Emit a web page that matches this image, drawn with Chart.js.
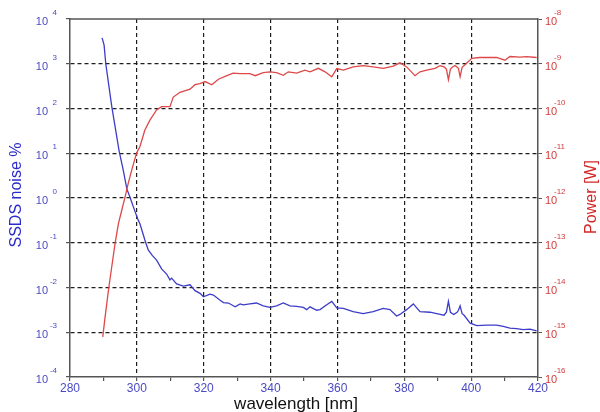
<!DOCTYPE html>
<html>
<head>
<meta charset="UTF-8">
<title>SSDS noise and power</title>
<script src="https://cdn.jsdelivr.net/npm/chart.js@4.4.0/dist/chart.umd.min.js"></script>
<style>
  body { margin: 0; background: #fff; }
</style>
</head>
<body>
<canvas id="myChart" width="600" height="412"></canvas>
<script>
// SSDS noise [%] against wavelength [nm]
var noiseWl = [
  289.6, 290.2, 290.7, 292.5, 294.7, 295.9, 297.0, 297.9, 298.9, 300.4,
  300.9, 302.4, 303.4, 304.6, 305.9, 307.4, 308.9, 309.9, 310.4, 311.9,
  313.9, 315.9, 317.4, 318.9, 319.9, 321.9, 322.9, 324.9, 325.9, 327.4,
  329.4, 330.9, 331.8, 333.8, 335.8, 337.8, 339.8, 341.8, 343.8, 345.8,
  347.8, 349.8, 350.8, 351.8, 353.8, 354.8, 356.8, 358.3, 359.8, 361.8,
  364.7, 367.7, 370.7, 373.7, 375.7, 377.7, 378.7, 380.7, 382.7, 384.7,
  387.7, 390.7, 391.9, 392.6, 393.2, 393.8, 394.8, 395.8, 396.2, 396.7,
  397.3, 397.9, 399.7, 401.7, 404.6, 407.6, 409.6, 411.6, 413.6, 415.6,
  417.6, 419.6
];
var noiseVal = [
  3800, 2600, 1000, 110, 11.2, 4.3, 1.6, 1.07, 0.65, 0.32,
  0.27, 0.115, 0.069, 0.052, 0.041, 0.026, 0.020, 0.0148, 0.0162, 0.0120,
  0.0107, 0.0115, 0.0085, 0.0074, 0.0062, 0.0071, 0.0068, 0.0052, 0.0046, 0.0045,
  0.0037, 0.0043, 0.0041, 0.0043, 0.0045, 0.0039, 0.0036, 0.0039, 0.0045, 0.0039,
  0.0038, 0.0036, 0.0032, 0.0037, 0.0031, 0.0032, 0.0041, 0.0049, 0.0035, 0.0034,
  0.0029, 0.0026, 0.0029, 0.0034, 0.0032, 0.0023, 0.0025, 0.0032, 0.0043, 0.0029,
  0.0028, 0.0025, 0.0024, 0.0028, 0.0049, 0.0028, 0.0025, 0.0028, 0.0031, 0.0039,
  0.0026, 0.0024, 0.0016, 0.0014, 0.00145, 0.00145, 0.00135, 0.00123, 0.0012, 0.00115,
  0.00117, 0.00107
];

// power [W] against wavelength [nm]
var powerWl = [
  289.8, 290.5, 291.5, 292.5, 293.5, 294.5, 295.5, 296.5, 297.4, 298.5,
  299.9, 300.9, 302.4, 303.9, 305.9, 307.4, 309.9, 310.9, 312.9, 315.9,
  317.4, 318.9, 320.4, 322.4, 324.4, 326.4, 328.8, 330.9, 333.8, 335.4,
  337.8, 339.8, 341.8, 343.8, 345.3, 347.8, 350.3, 351.8, 354.3, 356.3,
  358.3, 359.8, 361.8, 364.7, 367.7, 370.7, 373.7, 376.7, 378.7, 380.7,
  383.2, 384.7, 386.7, 389.2, 390.7, 391.9, 392.6, 393.2, 393.8, 394.6,
  395.2, 396.2, 396.7, 397.3, 397.9, 400.2, 402.6, 404.6, 407.6, 410.1,
  411.6, 414.6, 416.6, 419.6
];
var powerVal = [
  7.9e-16, 2.2e-15, 8.7e-15, 2.95e-14, 9.8e-14, 2.7e-13, 5.4e-13, 1.07e-12, 2.1e-12, 4.3e-12,
  1.0e-11, 1.4e-11, 3.3e-11, 5.5e-11, 9.3e-11, 1.1e-10, 1.1e-10, 1.8e-10, 2.3e-10, 2.7e-10,
  3.4e-10, 3.6e-10, 4.0e-10, 3.4e-10, 4.5e-10, 5.2e-10, 6.2e-10, 6.0e-10, 6.0e-10, 5.4e-10,
  6.3e-10, 6.6e-10, 6.3e-10, 5.5e-10, 6.6e-10, 6.2e-10, 7.2e-10, 6.6e-10, 7.9e-10, 6.6e-10,
  5.1e-10, 7.8e-10, 7.2e-10, 8.5e-10, 9.1e-10, 8.5e-10, 7.9e-10, 8.9e-10, 1.05e-9, 8.5e-10,
  5.4e-10, 6.6e-10, 7.2e-10, 7.9e-10, 9.1e-10, 8.5e-10, 7.6e-10, 4.4e-10, 7.6e-10, 8.7e-10,
  9.1e-10, 7.9e-10, 5.1e-10, 8.3e-10, 9.1e-10, 1.32e-9, 1.38e-9, 1.38e-9, 1.38e-9, 1.2e-9,
  1.45e-9, 1.41e-9, 1.45e-9, 1.38e-9
];

// decade exponents on the two log axes
var noiseExp = [-4, -3, -2, -1, 0, 1, 2, 3, 4];
var powerExp = [-16, -15, -14, -13, -12, -11, -10, -9, -8];

var blueText = '#4a4ac4';
var redText = '#d23c3c';
var gridColor = '#1e1e1e';
var font = '"Liberation Sans", Arial, sans-serif';

function points(xs, ys) {
  return xs.map(function (x, i) { return { x: x, y: ys[i] }; });
}

function decades(exps) {
  return function (scale) {
    scale.ticks = exps.map(function (e) { return { value: Math.pow(10, e) }; });
  };
}

// inner grid only, frame lines come from the axis borders
function innerLine(lo, hi) {
  return function (c) {
    if (!c.tick) return 'rgba(0,0,0,0)';
    var v = c.tick.value;
    return (v > lo * 1.0001 && v < hi * 0.9999) ? gridColor : 'rgba(0,0,0,0)';
  };
}

// "10" with a raised exponent, title texts, top frame line
var axisText = {
  id: 'axisText',
  afterDraw: function (chart) {
    var ctx = chart.ctx, a = chart.chartArea;
    var yl = chart.scales.y, yr = chart.scales.y2;
    ctx.save();
    ctx.strokeStyle = '#555';
    ctx.lineWidth = 1.5;
    ctx.beginPath();
    ctx.moveTo(a.left, a.top);
    ctx.lineTo(a.right, a.top);
    ctx.stroke();

    ctx.textBaseline = 'middle';
    ctx.fillStyle = blueText;
    noiseExp.forEach(function (e) {
      var y = yl.getPixelForValue(Math.pow(10, e));
      ctx.font = '11px ' + font;
      ctx.textAlign = 'right';
      ctx.fillText('10', 48, y + 3);
      ctx.font = '8px ' + font;
      ctx.fillText(String(e), 57, y - 6);
    });
    ctx.fillStyle = redText;
    powerExp.forEach(function (e) {
      var y = yr.getPixelForValue(Math.pow(10, e));
      ctx.font = '11px ' + font;
      ctx.textAlign = 'left';
      ctx.fillText('10', 545, y + 3);
      ctx.font = '8px ' + font;
      ctx.fillText(String(e), 554, y - 6);
    });

    ctx.textAlign = 'center';
    ctx.font = '17px ' + font;
    ctx.fillStyle = '#111';
    ctx.fillText('wavelength [nm]', 296, 404);

    ctx.font = '16px ' + font;
    ctx.save();
    ctx.translate(17, 195);
    ctx.rotate(-Math.PI / 2);
    ctx.fillStyle = '#2b2bcc';
    ctx.fillText('SSDS noise %', 0, 0);
    ctx.restore();
    ctx.save();
    ctx.translate(592, 197);
    ctx.rotate(-Math.PI / 2);
    ctx.fillStyle = '#d42828';
    ctx.fillText('Power [W]', 0, 0);
    ctx.restore();
    ctx.restore();
  }
};

var ctx = document.getElementById('myChart').getContext('2d');
var chart = new Chart(ctx, {
  type: 'line',
  data: {
    datasets: [{
      label: 'Power [W]',
      data: points(powerWl, powerVal),
      yAxisID: 'y2',
      borderColor: 'rgb(222, 72, 72)',
      borderWidth: 1.3,
      pointRadius: 0,
      tension: 0
    }, {
      label: 'SSDS noise %',
      data: points(noiseWl, noiseVal),
      yAxisID: 'y',
      borderColor: 'rgb(60, 60, 200)',
      borderWidth: 1.3,
      pointRadius: 0,
      tension: 0
    }]
  },
  options: {
    responsive: false,
    animation: false,
    devicePixelRatio: 1,
    layout: { padding: { top: 19 } },
    plugins: { legend: { display: false }, tooltip: { enabled: false } },
    scales: {
      x: {
        type: 'linear',
        position: 'bottom',
        min: 280,
        max: 420,
        afterFit: function (s) { s.height = 35; },
        ticks: {
          stepSize: 10,
          autoSkip: false,
          maxRotation: 0,
          padding: 0,
          color: blueText,
          font: { size: 12, family: font },
          callback: function (v) { return v % 20 === 0 ? v : ''; }
        },
        grid: {
          color: function (c) {
            if (!c.tick) return 'rgba(0,0,0,0)';
            var v = c.tick.value;
            return (v % 20 === 0 && v > 280 && v < 420) ? gridColor : 'rgba(0,0,0,0)';
          },
          tickColor: '#555',
          tickLength: 4,
          lineWidth: 1.2
        },
        border: { display: true, color: '#555', width: 1.5, dash: [4, 3] }
      },
      y: {
        type: 'logarithmic',
        position: 'left',
        min: 1e-4,
        max: 1e4,
        afterBuildTicks: decades(noiseExp),
        afterFit: function (s) { s.width = 70; },
        ticks: { display: false },
        grid: {
          color: innerLine(1e-4, 1e4),
          tickColor: '#555',
          tickLength: 4,
          lineWidth: 1.2
        },
        border: { display: true, color: '#555', width: 1.5, dash: [4, 3] }
      },
      y2: {
        type: 'logarithmic',
        position: 'right',
        min: 1e-16,
        max: 1e-8,
        afterBuildTicks: decades(powerExp),
        afterFit: function (s) { s.width = 62; },
        ticks: { display: false },
        grid: {
          drawOnChartArea: false,
          tickColor: '#555',
          tickLength: 4
        },
        border: { display: true, color: '#555', width: 1.5 }
      }
    }
  },
  plugins: [axisText]
});
</script>
</body>
</html>
